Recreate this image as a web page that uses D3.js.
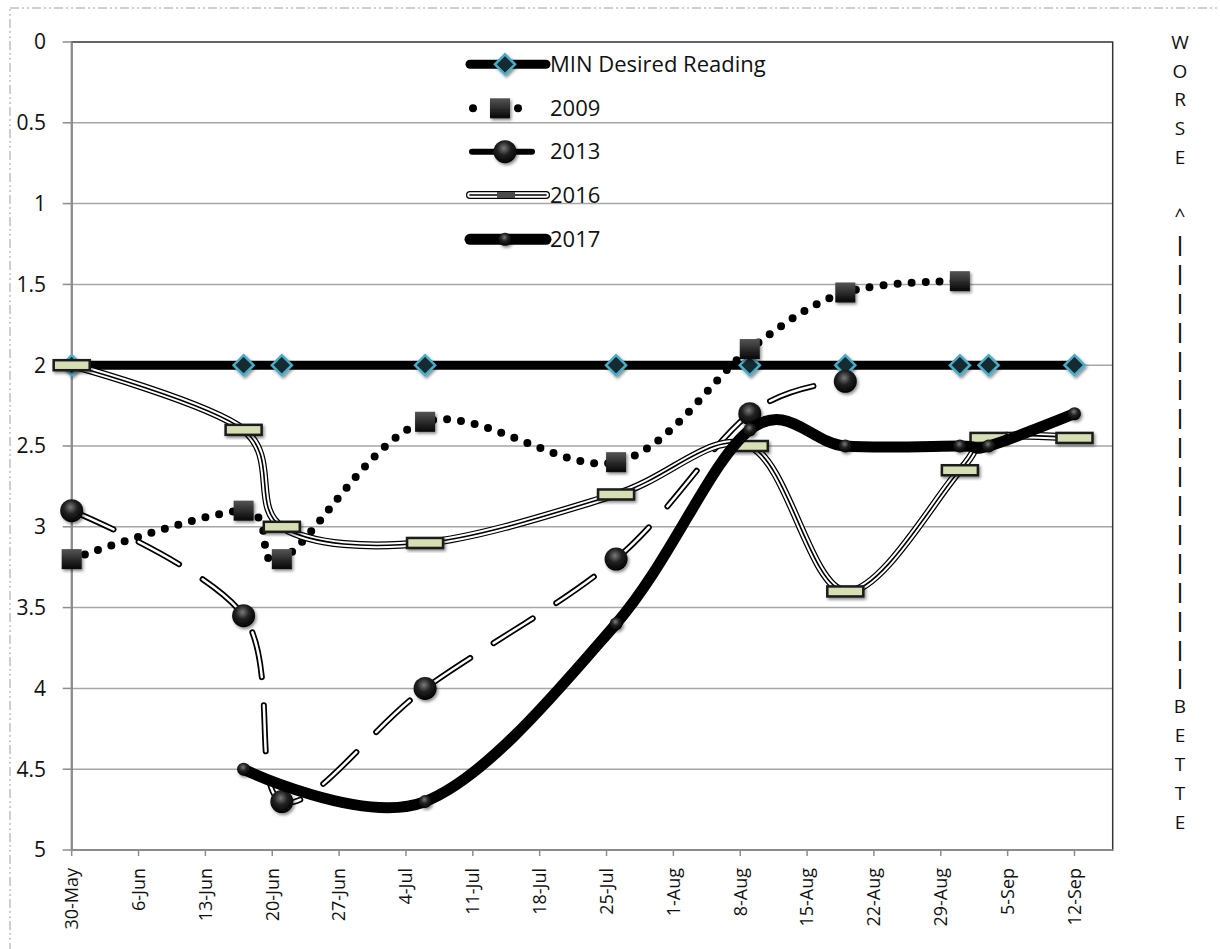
<!DOCTYPE html>
<html>
<head>
<meta charset="utf-8">
<script src="https://cdn.jsdelivr.net/npm/d3@7/dist/d3.min.js"></script>
<style>
    body { margin: 0; background: #fff; }
    svg { display: block; font-family: "Open Sans", sans-serif; }
</style>
</head>
<body>
<svg id="chart" width="1220" height="949"></svg>
<script>
// observation dates shared by all series
var obsDates = ['30-May', '17-Jun', '21-Jun', '6-Jul', '26-Jul', '9-Aug', '19-Aug', '31-Aug', '3-Sep', '12-Sep'];

var minDesired = [2, 2, 2, 2, 2, 2, 2, 2, 2, 2];
var y2009 = [3.2, 2.9, 3.2, 2.35, 2.6, 1.9, 1.55, 1.48, null, null];
var y2013 = [2.9, 3.55, 4.7, 4.0, 3.2, 2.3, 2.1, null, null, null];
var y2016 = [2.0, 2.4, 3.0, 3.1, 2.8, 2.5, 3.4, 2.65, 2.45, 2.45];
var y2017 = [null, 4.5, null, 4.7, 3.6, 2.4, 2.5, 2.5, 2.5, 2.3];

var xTickLabels = ['30-May', '6-Jun', '13-Jun', '20-Jun', '27-Jun', '4-Jul', '11-Jul', '18-Jul',
    '25-Jul', '1-Aug', '8-Aug', '15-Aug', '22-Aug', '29-Aug', '5-Sep', '12-Sep'];
var yTicks = [0, 0.5, 1, 1.5, 2, 2.5, 3, 3.5, 4, 4.5, 5];
var legendNames = ['MIN Desired Reading', '2009', '2013', '2016', '2017'];
var sideLetters = ['W', 'O', 'R', 'S', 'E', '', '^',
    '|', '|', '|', '|', '|', '|', '|', '|', '|', '|', '|', '|', '|', '|', '|', '|',
    'B', 'E', 'T', 'T', 'E'];

(function draw() {
    var parseDay = d3.timeParse('%d-%b-%Y'),
        toDate = function(s) { return parseDay(s + '-2017'); };

    var svg = d3.select('#chart'),
        pl = 71.7, pr = 1112.7, pt = 42, pb = 850;

    var x = d3.scaleTime()
        .domain([toDate('30-May'), toDate('16-Sep')])
        .range([pl, pr]);

    var y = d3.scaleLinear()
        .domain([0, 5])
        .range([pt, pb]);

    // defs: gradients and shadow
    var defs = svg.append('defs');

    var sph = defs.append('radialGradient').attr('id', 'sphere')
        .attr('cx', '45%').attr('cy', '35%').attr('r', '65%');
    sph.append('stop').attr('offset', '0%').attr('stop-color', '#7a7a7a');
    sph.append('stop').attr('offset', '45%').attr('stop-color', '#222');
    sph.append('stop').attr('offset', '100%').attr('stop-color', '#000');

    var sq = defs.append('linearGradient').attr('id', 'square')
        .attr('x1', 0).attr('y1', 0).attr('x2', 0).attr('y2', 1);
    sq.append('stop').attr('offset', '0%').attr('stop-color', '#555');
    sq.append('stop').attr('offset', '100%').attr('stop-color', '#050505');

    var sh = defs.append('filter').attr('id', 'shadow')
        .attr('x', '-50%').attr('y', '-50%').attr('width', '200%').attr('height', '200%');
    sh.append('feDropShadow').attr('dx', 1.5).attr('dy', 2).attr('stdDeviation', 1.5)
        .attr('flood-color', '#000').attr('flood-opacity', 0.45);

    // outer dash-dot border
    svg.append('rect')
        .attr('x', 10).attr('y', 8).attr('width', 1240).attr('height', 970)
        .attr('fill', 'none').attr('stroke', '#a0a0a0').attr('stroke-width', 1)
        .attr('stroke-dasharray', '9 3 2 3 2 3');

    // grid
    svg.append('g').selectAll('line')
        .data(yTicks.filter(function(t) { return t > 0 && t < 5; }))
        .enter().append('line')
        .attr('x1', pl).attr('x2', pr)
        .attr('y1', function(d) { return y(d); }).attr('y2', function(d) { return y(d); })
        .attr('stroke', '#a6a6a6').attr('stroke-width', 1.5);

    svg.append('rect')
        .attr('x', pl).attr('y', pt).attr('width', pr - pl).attr('height', pb - pt)
        .attr('fill', 'none').attr('stroke', '#333').attr('stroke-width', 1.5);

    // y axis
    var yAxis = svg.append('g');
    yAxis.append('line').attr('x1', pl).attr('x2', pl).attr('y1', pt).attr('y2', pb + 1)
        .attr('stroke', '#8c8c8c').attr('stroke-width', 2);
    yAxis.selectAll('line.tk').data(yTicks).enter().append('line').attr('class', 'tk')
        .attr('x1', pl - 9).attr('x2', pl)
        .attr('y1', function(d) { return y(d); }).attr('y2', function(d) { return y(d); })
        .attr('stroke', '#8c8c8c').attr('stroke-width', 1.5);
    yAxis.selectAll('text').data(yTicks).enter().append('text')
        .attr('x', 46).attr('y', function(d) { return y(d); })
        .attr('dy', '0.35em').attr('text-anchor', 'end')
        .attr('font-size', 21).attr('fill', '#111')
        .text(function(d) { return d; });

    // x axis
    var xAxis = svg.append('g');
    xAxis.append('line').attr('x1', pl).attr('x2', pr).attr('y1', pb).attr('y2', pb)
        .attr('stroke', '#8c8c8c').attr('stroke-width', 2);
    xTickLabels.forEach(function(lbl) {
        var px = x(toDate(lbl));
        xAxis.append('line').attr('x1', px).attr('x2', px).attr('y1', pb).attr('y2', pb + 6)
            .attr('stroke', '#8c8c8c').attr('stroke-width', 1.5);
        xAxis.append('text')
            .attr('transform', 'translate(' + px + ',' + (pb + 18) + ') rotate(-90)')
            .attr('dy', '0.35em').attr('text-anchor', 'end')
            .attr('font-size', 18).attr('fill', '#111')
            .text(lbl);
    });

    // series
    var line = d3.line()
        .x(function(p) { return x(p.d); })
        .y(function(p) { return y(p.v); })
        .curve(d3.curveCardinal.tension(0));

    function points(vals) {
        return vals.map(function(v, i) { return { d: toDate(obsDates[i]), v: v }; })
            .filter(function(p) { return p.v !== null; });
    }

    function strokes(g, d, list) {
        list.forEach(function(s) {
            g.append('path').attr('d', d).attr('fill', 'none')
                .attr('stroke', s.c).attr('stroke-width', s.w)
                .attr('stroke-dasharray', s.dash || null)
                .attr('stroke-linecap', s.cap || 'butt')
                .attr('stroke-linejoin', 'round');
        });
    }

    var markers = {
        diamond: function(g, cx, cy) {
            g.append('path')
                .attr('d', 'M' + cx + ',' + (cy - 10) + 'L' + (cx + 10) + ',' + cy + 'L' + cx + ',' + (cy + 10) + 'L' + (cx - 10) + ',' + cy + 'Z')
                .attr('fill', '#132a33').attr('stroke', '#4bacc6').attr('stroke-width', 2.5)
                .attr('filter', 'url(#shadow)');
        },
        square: function(g, cx, cy) {
            g.append('rect').attr('x', cx - 10).attr('y', cy - 10).attr('width', 20).attr('height', 20)
                .attr('fill', 'url(#square)').attr('filter', 'url(#shadow)');
        },
        bigSphere: function(g, cx, cy) {
            g.append('circle').attr('cx', cx).attr('cy', cy).attr('r', 11.5)
                .attr('fill', 'url(#sphere)').attr('filter', 'url(#shadow)');
        },
        bar: function(g, cx, cy) {
            g.append('rect').attr('x', cx - 18).attr('y', cy - 5).attr('width', 36).attr('height', 10)
                .attr('fill', '#d5dfb3').attr('stroke', '#1a1a1a').attr('stroke-width', 2.5)
                .attr('filter', 'url(#shadow)');
        },
        smallSphere: function(g, cx, cy) {
            g.append('circle').attr('cx', cx).attr('cy', cy).attr('r', 6.5)
                .attr('fill', 'url(#sphere)').attr('filter', 'url(#shadow)');
        }
    };

    var series = [
        { vals: minDesired, marker: 'diamond', st: [{ c: '#000', w: 9 }] },
        { vals: y2009, marker: 'square', st: [{ c: '#000', w: 8, dash: '0 14', cap: 'round' }] },
        { vals: y2013, marker: 'bigSphere', st: [{ c: '#000', w: 6, dash: '46 28', cap: 'round' },
                                               { c: '#fff', w: 2.5, dash: '46 28', cap: 'round' }] },
        { vals: y2016, marker: 'bar', st: [{ c: '#000', w: 8 }, { c: '#fff', w: 5.5 }, { c: '#000', w: 1.6 }] },
        { vals: y2017, marker: 'smallSphere', st: [{ c: '#000', w: 11, cap: 'round' }] }
    ];

    var plot = svg.append('g');
    series.forEach(function(s) {
        var g = plot.append('g'),
            pts = points(s.vals);
        strokes(g, line(pts), s.st);
        pts.forEach(function(p) { markers[s.marker](g, x(p.d), y(p.v)); });
    });

    // legend
    var legend = svg.append('g'),
        legendY = [64.3, 108.3, 151.7, 195, 239.3];
    series.forEach(function(s, i) {
        var g = legend.append('g'),
            ly = legendY[i];
        if (i === 1) {
            markers.square(g, 500, ly);
            [473, 518].forEach(function(cx) {
                g.append('circle').attr('cx', cx).attr('cy', ly).attr('r', 4).attr('fill', '#000');
            });
        } else if (i === 2) {
            strokes(g, 'M472,' + ly + 'L532,' + ly, [{ c: '#000', w: 6, cap: 'round' }]);
            markers.bigSphere(g, 505, ly);
        } else if (i === 3) {
            strokes(g, 'M470,' + ly + 'L546,' + ly, s.st.map(function(o) {
                return { c: o.c, w: o.w, cap: 'round' };
            }));
            g.append('rect').attr('x', 497).attr('y', ly - 3).attr('width', 18).attr('height', 6)
                .attr('fill', '#4a4a4a');
        } else {
            strokes(g, 'M470,' + ly + 'L546,' + ly, s.st.map(function(o) {
                return { c: o.c, w: o.w, cap: 'round' };
            }));
            markers[s.marker](g, 505, ly);
        }
        g.append('text').attr('x', 550).attr('y', ly).attr('dy', '0.35em')
            .attr('font-size', 22).attr('fill', '#111')
            .text(legendNames[i]);
    });

    // vertical side note
    svg.append('g').selectAll('text')
        .data(sideLetters)
        .enter().append('text')
        .attr('x', 1180).attr('y', function(d, i) { return 42 + i * 28.9; })
        .attr('dy', '0.35em').attr('text-anchor', 'middle')
        .attr('font-size', 19).attr('fill', '#111')
        .attr('font-weight', function(d) { return d === '|' ? 'bold' : null; })
        .text(function(d) { return d; });
})();
</script>
</body>
</html>
